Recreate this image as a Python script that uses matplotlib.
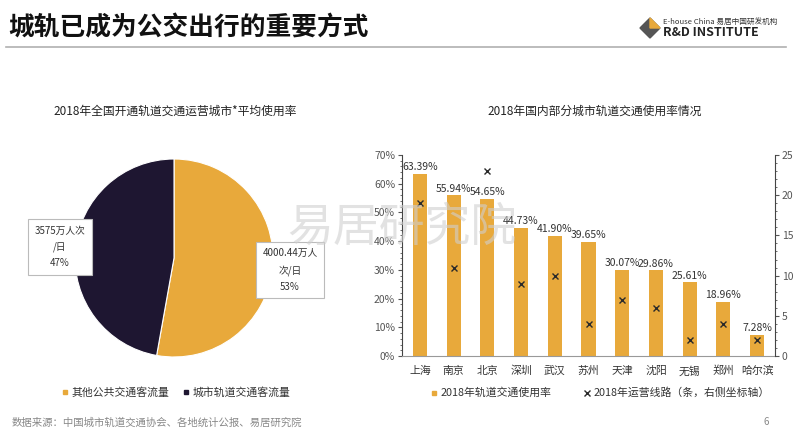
import matplotlib
matplotlib.use("Agg")
import matplotlib.pyplot as plt
import matplotlib.ticker as ticker
from matplotlib.lines import Line2D
from matplotlib.patches import Polygon

plt.rcParams['font.family'] = ['Noto Sans CJK SC', 'DejaVu Sans']

# pie data
pie_labels = ['其他公共交通客流量', '城市轨道交通客流量']
pie_values = [4000.44, 3575]
pie_texts = ['4000.44万人\n次/日\n53%', '3575万人次\n/日\n47%']

# bar data
cities = ['上海', '南京', '北京', '深圳', '武汉', '苏州', '天津', '沈阳', '无锡', '郑州', '哈尔滨']
usage = [63.39, 55.94, 54.65, 44.73, 41.90, 39.65, 30.07, 29.86, 25.61, 18.96, 7.28]
lines = [19, 11, 23, 9, 10, 4, 7, 6, 2, 4, 2]

yellow = '#E8A93B'
dark = '#1E1631'

W, H = 800, 436
fig = plt.figure(figsize=(W / 100, H / 100), dpi=100)


def fx(px):
    return px / W


def fy(py):
    return 1 - py / H


# header
fig.text(fx(8), fy(28), '城轨已成为公交出行的重要方式', fontsize=18.5, fontweight='heavy',
         color='#111111', va='center', ha='left')
fig.add_artist(Line2D([fx(6), fx(786)], [fy(47), fy(47)], color='#b0b0b0', lw=1.2))
# logo
cube = [(640, 28), (650, 18), (660, 28), (650, 38)]
fig.add_artist(Polygon([(fx(x), fy(y)) for x, y in cube], closed=True, color='#555555'))
fig.add_artist(Polygon([(fx(x), fy(y)) for x, y in [(650, 18), (660, 28), (650, 28)]],
                       closed=True, color='#E8A93B'))
fig.text(fx(663), fy(22), 'E-house China 易居中国研发机构', fontsize=5.5, style='italic',
         color='#333333', va='center', ha='left')
fig.text(fx(663), fy(33), 'R&D INSTITUTE', fontsize=9, fontweight='bold',
         color='#222222', va='center', ha='left')

# watermark
fig.text(fx(402), fy(228), '易居研究院', fontsize=33, color='#cfcfcf', alpha=0.6,
         ha='center', va='center', zorder=10)

# ---------- pie ----------
fig.text(fx(175), fy(111), '2018年全国开通轨道交通运营城市*平均使用率', fontsize=8.5,
         color='#222222', ha='center', va='center')
pax = fig.add_axes([fx(75), fy(357), 198 / W, 198 / H])
pax.pie(pie_values, colors=[yellow, dark], startangle=90, counterclock=False,
        wedgeprops=dict(edgecolor='white', linewidth=0.8))
pax.set_xlim(-1, 1)
pax.set_ylim(-1, 1)
pax.set_aspect('equal')

box = dict(boxstyle='square,pad=0.7', fc='white', ec='#bbbbbb', lw=0.8)
fig.text(fx(290), fy(270), pie_texts[0], fontsize=7, color='#333333', ha='center',
         va='center', linespacing=1.75, bbox=box)
fig.text(fx(60), fy(247), pie_texts[1], fontsize=7, color='#333333', ha='center',
         va='center', linespacing=1.75, bbox=box)

pie_handles = [Line2D([], [], marker='s', ls='', color=c, markersize=3.5) for c in [yellow, dark]]
fig.legend(pie_handles, pie_labels, loc='center', bbox_to_anchor=(fx(176), fy(392)), ncol=2,
           frameon=False, fontsize=7.8, handlelength=0.6, handletextpad=0.3,
           columnspacing=1.2, labelcolor='#333333')

# ---------- bars ----------
fig.text(fx(595), fy(111), '2018年国内部分城市轨道交通使用率情况', fontsize=8.5,
         color='#222222', ha='center', va='center')
ax = fig.add_axes([fx(402), fy(356), (775 - 402) / W, (356 - 155) / H])
x = range(len(cities))
ax.bar(x, usage, width=0.42, color=yellow, zorder=2)
for i, v in enumerate(usage):
    ax.text(i, v + 0.6, f'{v:.2f}%', ha='center', va='bottom', fontsize=7.5, color='#333333')
ax.set_ylim(0, 70)
ax.set_xlim(-0.53, len(cities) - 0.47)
ax.yaxis.set_major_locator(ticker.MultipleLocator(10))
ax.yaxis.set_minor_locator(ticker.MultipleLocator(2))
ax.yaxis.set_major_formatter(ticker.FuncFormatter(lambda v, p: f'{v:.0f}%'))
ax.set_xticks(list(x))
ax.set_xticklabels(cities)
ax.tick_params(axis='x', length=0, labelsize=7.8, colors='#333333', pad=7)
ax.tick_params(axis='y', which='major', length=3, labelsize=7.5, colors='#555555', pad=2)
ax.tick_params(axis='y', which='minor', length=1.5, color='#555555')
for s in ['top', 'right']:
    ax.spines[s].set_visible(False)
ax.spines['left'].set_color('#444444')
ax.spines['bottom'].set_color('#999999')

ax2 = ax.twinx()
ax2.plot(list(x), lines, ls='', marker='x', color='#2a2a2a', markersize=5, mew=1)
ax2.set_ylim(0, 25)
ax2.yaxis.set_major_locator(ticker.MultipleLocator(5))
ax2.yaxis.set_minor_locator(ticker.MultipleLocator(1))
ax2.tick_params(axis='y', which='major', length=3, labelsize=7.5, colors='#555555', pad=2)
ax2.tick_params(axis='y', which='minor', length=1.5, color='#555555')
for s in ['top', 'left', 'bottom']:
    ax2.spines[s].set_visible(False)
ax2.spines['right'].set_color('#444444')

bar_handles = [Line2D([], [], marker='s', ls='', color=yellow, markersize=3.5),
               Line2D([], [], marker='x', ls='', color='#2a2a2a', markersize=5, mew=1)]
fig.legend(bar_handles, ['2018年轨道交通使用率', '2018年运营线路（条，右侧坐标轴）'],
           loc='center', bbox_to_anchor=(fx(600), fy(393)), ncol=2, frameon=False,
           fontsize=7.8, handlelength=0.6, handletextpad=0.3, columnspacing=3,
           labelcolor='#333333')

# footer
fig.text(fx(12), fy(423), '数据来源：中国城市轨道交通协会、各地统计公报、易居研究院',
         fontsize=7.5, color='#888888', ha='left', va='center')
fig.text(fx(766), fy(422), '6', fontsize=7, color='#888888', ha='center', va='center')

fig.savefig('out.png', dpi=100)
